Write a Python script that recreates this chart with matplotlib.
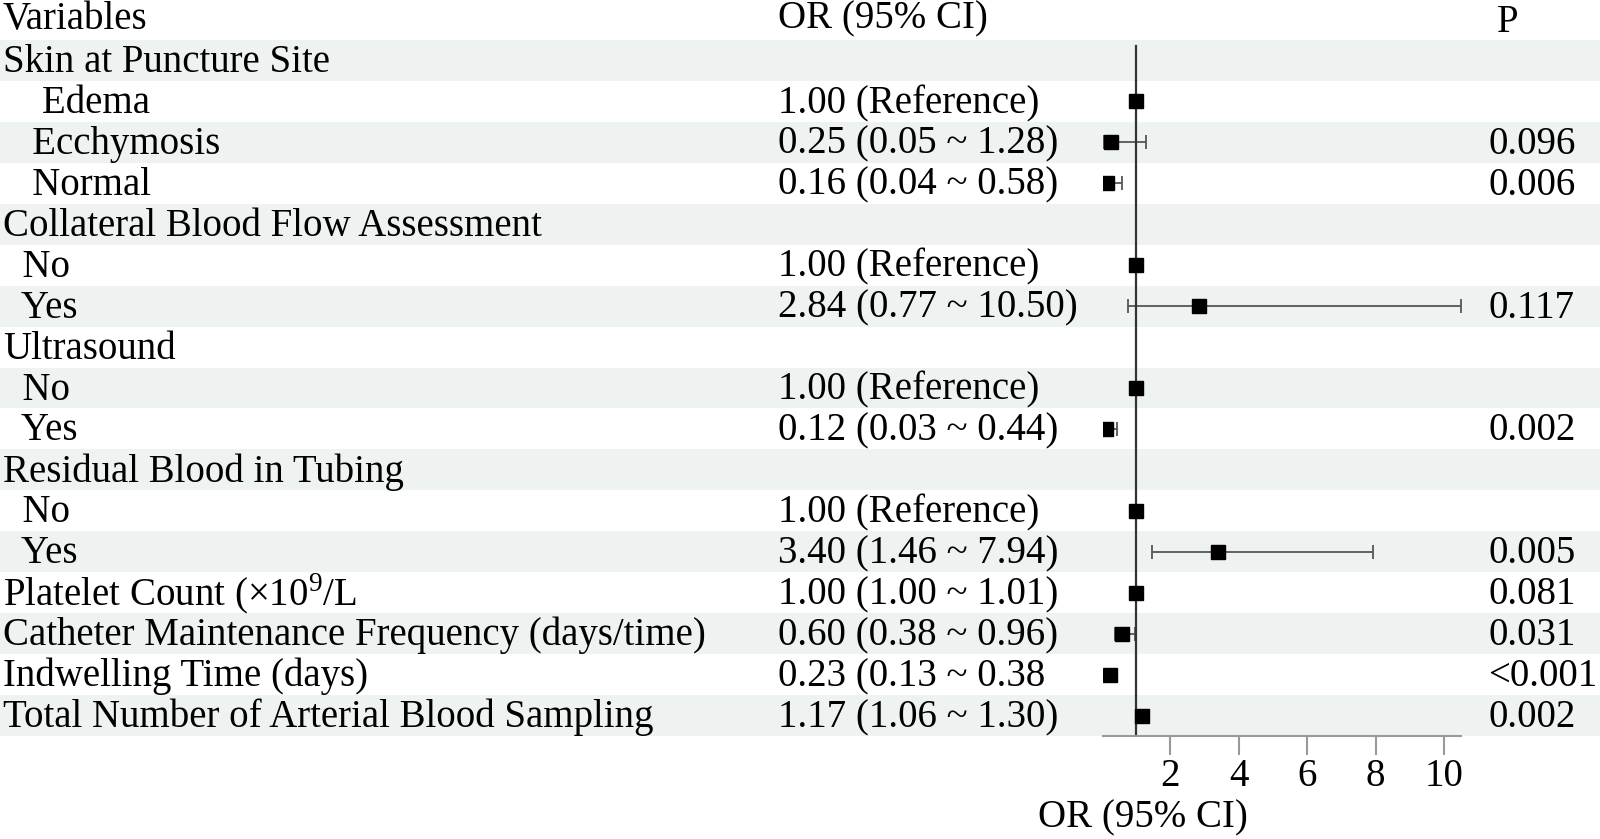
import numpy as np
import matplotlib.pyplot as plt
from matplotlib.patches import Rectangle

plt.rcParams['font.family'] = ['Liberation Serif', 'DejaVu Serif']
plt.rcParams['mathtext.fontset'] = 'custom'
plt.rcParams['mathtext.rm'] = 'Liberation Serif'

# table rows (leading spaces are the indents of the original)
labels = ["Skin at Puncture Site", "    Edema", "   Ecchymosis", "   Normal",
          "Collateral Blood Flow Assessment", "  No", "  Yes",
          "Ultrasound", "  No", "  Yes",
          "Residual Blood in Tubing", "  No", "  Yes",
          r"Platelet Count (×10$^{9}$/L",
          "Catheter Maintenance Frequency (days/time)",
          "Indwelling Time (days)",
          "Total Number of Arterial Blood Sampling"]
or_text = ["", "1.00 (Reference)", "0.25 (0.05 ~ 1.28)", "0.16 (0.04 ~ 0.58)",
           "", "1.00 (Reference)", "2.84 (0.77 ~ 10.50)",
           "", "1.00 (Reference)", "0.12 (0.03 ~ 0.44)",
           "", "1.00 (Reference)", "3.40 (1.46 ~ 7.94)",
           "1.00 (1.00 ~ 1.01)", "0.60 (0.38 ~ 0.96)", "0.23 (0.13 ~ 0.38",
           "1.17 (1.06 ~ 1.30)"]
p_text = ["", "", "0.096", "0.006", "", "", "0.117", "", "", "0.002",
          "", "", "0.005", "0.081", "0.031", "<0.001", "0.002"]

nan = np.nan
odds = [nan, 1.00, 0.25, 0.16, nan, 1.00, 2.84, nan, 1.00, 0.12,
        nan, 1.00, 3.40, 1.00, 0.60, 0.23, 1.17]
lower = [nan, nan, 0.05, 0.04, nan, nan, 0.77, nan, nan, 0.03,
         nan, nan, 1.46, 1.00, 0.38, 0.13, 1.06]
upper = [nan, nan, 1.28, 0.58, nan, nan, 10.50, nan, nan, 0.44,
         nan, nan, 7.94, 1.01, 0.96, 0.38, 1.30]

W, H = 1600, 839
top, bottom = 40, 736          # table area in pixels
n = len(labels)
rh = (bottom - top) / n
fs = 28

fig = plt.figure(figsize=(W / 100, H / 100), dpi=100)

# background axes in pixel coords
bg = fig.add_axes([0, 0, 1, 1])
bg.set_xlim(0, W)
bg.set_ylim(H, 0)
bg.axis('off')

for i in range(n):
    yc = top + (i + 0.5) * rh + 2
    if i % 2 == 0:
        bg.add_patch(Rectangle((0, top + i * rh), W, rh, color='#eef2f0', lw=0))
    bg.text(3, yc, labels[i], fontsize=fs, va='center', ha='left')
    bg.text(778, yc, or_text[i], fontsize=fs, va='center', ha='left')
    bg.text(1488, yc, p_text[i], fontsize=fs, va='center', ha='left')

bg.text(3, 19, "Variables", fontsize=fs, va='center', ha='left')
bg.text(778, 19, "OR (95% CI)", fontsize=fs, va='center', ha='left')
bg.text(1508, 23, "P", fontsize=fs, va='center', ha='center')
bg.text(1143, 818, "OR (95% CI)", fontsize=fs, va='center', ha='center')

# forest plot
x0, x1 = 1103, 1461
ax = fig.add_axes([x0 / W, 1 - bottom / H, (x1 - x0) / W, (bottom - top) / H])
ax.patch.set_alpha(0)
ax.set_xlim(0.03, 10.5)
ax.set_ylim(n - 0.5, -0.5)

y = np.arange(n)
odds = np.array(odds)
lower = np.array(lower)
upper = np.array(upper)
has_ci = ~np.isnan(lower)
ax.errorbar(odds[has_ci], y[has_ci],
            xerr=[odds[has_ci] - lower[has_ci], upper[has_ci] - odds[has_ci]],
            fmt='none', ecolor='#555555', elinewidth=1.3, capsize=5, capthick=1.3)
ax.plot(odds, y, 's', color='black', markersize=9.5, zorder=3)
ax.axvline(1, ymin=0, ymax=(bottom - 46) / (bottom - top), color='#333333', lw=1.6, zorder=2)

for s in ['top', 'right', 'left']:
    ax.spines[s].set_visible(False)
ax.spines['bottom'].set_color('#999999')
ax.spines['bottom'].set_linewidth(1.5)
ax.set_yticks([])
ax.set_xticks([2, 4, 6, 8, 10])
ax.tick_params(axis='x', length=14, width=1.5, color='#999999', labelsize=fs, pad=2)

fig.savefig('out.png', dpi=100)
